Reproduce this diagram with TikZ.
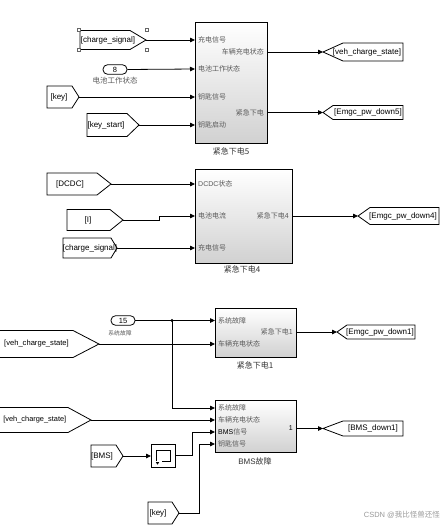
\documentclass[tikz,border=0pt]{standalone}
\usepackage{fontspec}
\setmainfont{Liberation Sans}
\newfontfamily\cjk{Noto Sans CJK SC}
\usetikzlibrary{arrows.meta}
\newcommand\fromtag[8]{%
  \draw[tagline] (#2,#5-#6) -- (#3,#5-#6) -- (#4,#5) -- (#3,#5+#6) -- (#2,#5+#6) -- cycle;
  \coordinate (#1) at (#4,#5);
  \node[tagtxt] (#1t) at (#7,#5) {#8};}
\newcommand\gototag[8]{%
  \draw[tagline] (#2,#5) -- (#3,#5-#6) -- (#4,#5-#6) -- (#4,#5+#6) -- (#3,#5+#6) -- cycle;
  \coordinate (#1) at (#2,#5);
  \node[tagtxt] (#1t) at (#7,#5) {#8};}
\begin{document}
\begin{tikzpicture}[x=1pt,y=-1pt,
  sig/.style={draw=black, line width=0.8pt, -{Triangle[length=5pt,width=4.5pt]}},
  wire/.style={draw=black, line width=0.8pt},
  tagline/.style={draw=black, line width=0.8pt, fill=white},
  tagtxt/.style={font=\fontsize{8}{9}\selectfont, inner sep=0pt},
  blk/.style={draw=black, line width=0.9pt, top color=white, bottom color=black!18,
    inner sep=0pt, outer sep=0pt, anchor=north west},
  plab/.style={font=\cjk\fontsize{7}{8}\selectfont, text=black!65, inner sep=0pt},
  blab/.style={font=\cjk\fontsize{8}{9}\selectfont, text=black!80, inner sep=0pt},
  const/.style={draw=black, line width=0.8pt, rounded corners=4.5pt, fill=white,
    minimum width=24pt, minimum height=9.5pt, inner sep=0pt, font=\fontsize{7.5}{8}\selectfont},
  handle/.style={draw=black!60, line width=0.5pt, fill=white}
]
\useasboundingbox (0,0) rectangle (444,527);

% ---------------- block 紧急下电5 ----------------
\node[blk, minimum width=72pt, minimum height=121pt] (b5) at (195,22) {};
\node[blab] (b5l) at (231,151) {紧急下电5};
\node[plab, anchor=west] (b5p1) at (198,40) {充电信号};
\node[plab, anchor=west] (b5p2) at (198,69) {电池工作状态};
\node[plab, anchor=west] (b5p3) at (198,97) {钥匙信号};
\node[plab, anchor=west] (b5p4) at (198,125) {钥匙启动};
\node[plab, anchor=east] (b5o1) at (264,52) {车辆充电状态};
\node[plab, anchor=east] (b5o2) at (264,113) {紧急下电};
\coordinate (b5i1) at (195,40);
\coordinate (b5i2) at (195,69);
\coordinate (b5i3) at (195,97);
\coordinate (b5i4) at (195,125);
\coordinate (b5q1) at (267,52);
\coordinate (b5q2) at (267,112.5);

\fromtag{fcs1}{80}{130}{146}{40}{9.5}{108}{[charge\_signal]}
\draw[handle] (77.5,28.5) rectangle +(3,3);
\draw[handle] (145.5,28.5) rectangle +(3,3);
\draw[handle] (77.5,48.5) rectangle +(3,3);
\draw[handle] (145.5,48.5) rectangle +(3,3);
\node[const] (c8) at (115,69.5) {8};
\node[font=\cjk\fontsize{7.5}{8}\selectfont, text=black!65, inner sep=0pt] (c8l) at (115,81) {电池工作状态};
\fromtag{fkey1}{47}{72}{79}{97}{11}{59}{[key]}
\fromtag{fks}{87}{127}{139}{125}{11.5}{106}{[key\_start]}

\gototag{gveh}{323}{343}{403}{52}{9}{367}{[veh\_charge\_state]}
\gototag{g5}{323}{333}{403}{112.5}{7}{368}{[Emgc\_pw\_down5]}

\draw[sig] (fcs1) -- (b5i1);
\draw[sig] (c8.east) -- (b5i2);
\draw[sig] (fkey1) -- (b5i3);
\draw[sig] (fks) -- (b5i4);
\draw[sig] (b5q1) -- (gveh);
\draw[sig] (b5q2) -- (g5);

% ---------------- block 紧急下电4 ----------------
\node[blk, minimum width=97pt, minimum height=94pt] (b4) at (195,169) {};
\node[blab] (b4l) at (242,269) {紧急下电4};
\node[plab, anchor=west] (b4p1) at (198,184) {{\fontspec{Liberation Sans}DCDC}状态};
\node[plab, anchor=west] (b4p2) at (198,216) {电池电流};
\node[plab, anchor=west] (b4p3) at (198,248) {充电信号};
\node[plab, anchor=east] (b4o1) at (289,216) {紧急下电4};
\coordinate (b4i1) at (195,184);
\coordinate (b4i2) at (195,216);
\coordinate (b4i3) at (195,248);
\coordinate (b4q1) at (292,216);

\fromtag{fdcdc}{47}{97}{111}{184}{11}{70}{[DCDC]}
\fromtag{fi}{67}{110}{123}{220}{10.5}{88}{[I]}
\fromtag{fcs2}{63}{111}{117}{248}{10}{90}{[charge\_signal]}
\gototag{g4}{358}{370}{439}{216}{8.5}{403}{[Emgc\_pw\_down4]}
\coordinate (fiA) at (159,220);
\coordinate (fiB) at (159,216);

\draw[sig] (fdcdc) -- (b4i1);
\draw[sig] (fi) -- (fiA) -- (fiB) -- (b4i2);
\draw[sig] (fcs2) -- (b4i3);
\draw[sig] (b4q1) -- (g4);

% ---------------- block 紧急下电1 ----------------
\node[blk, minimum width=81pt, minimum height=49pt] (b1) at (215,308) {};
\node[blab] (b1l) at (255,365) {紧急下电1};
\node[plab, anchor=west] (b1p1) at (218,320.5) {系统故障};
\node[plab, anchor=west] (b1p2) at (218,344) {车辆充电状态};
\node[plab, anchor=east] (b1o1) at (293,332) {紧急下电1};
\coordinate (b1i1) at (215,320.5);
\coordinate (b1i2) at (215,344);
\coordinate (b1q1) at (296,332);

\node[const] (c15) at (123,320.5) {15};
\node[font=\cjk\fontsize{5.8}{7}\selectfont, text=black!65, inner sep=0pt] (c15l) at (120,333) {系统故障};
\draw[tagline] (-20,330.5) -- (73,330.5) -- (99,344) -- (73,357.5) -- (-20,357.5) -- cycle;
\coordinate (fveh1) at (99,344);
\node[tagtxt, font=\fontsize{7.6}{9}\selectfont, anchor=east] (fveh1t) at (69,344) {[veh\_charge\_state]};
\gototag{g1}{337}{347}{415}{332}{7}{380}{[Emgc\_pw\_down1]}
\coordinate (jn) at (172,320.5);
\coordinate (jnB) at (172,408);

\draw[sig] (c15.east) -- (b1i1);
\fill (jn) circle (1.6pt);
\draw[sig] (fveh1) -- (b1i2);
\draw[sig] (b1q1) -- (g1);

% ---------------- block BMS故障 ----------------
\node[blk, minimum width=81pt, minimum height=52pt] (bb) at (215,400) {};
\node[blab] (bbl) at (255,461) {{\fontspec{Liberation Sans}BMS}故障};
\node[plab, anchor=west] (bbp1) at (218,408) {系统故障};
\node[plab, anchor=west] (bbp2) at (218,420) {车辆充电状态};
\node[plab, anchor=west] (bbp3) at (218,432) {{\fontspec{Liberation Sans}\color{black}BMS}信号};
\node[plab, anchor=west] (bbp4) at (218,444) {钥匙信号};
\node[font=\fontsize{7}{8}\selectfont, inner sep=0pt, anchor=east] (bbo1) at (293,428.5) {1};
\coordinate (bbi1) at (215,408);
\coordinate (bbi2) at (215,420);
\coordinate (bbi3) at (215,432);
\coordinate (bbi4) at (215,444);
\coordinate (bbq1) at (296,428.5);

\draw[tagline] (-20,407.5) -- (68,407.5) -- (91,420) -- (68,432.5) -- (-20,432.5) -- cycle;
\coordinate (fveh2) at (91,420);
\node[tagtxt, font=\fontsize{7.4}{9}\selectfont, anchor=east] (fveh2t) at (66.5,420) {[veh\_charge\_state]};
\fromtag{fbms}{91}{116}{123}{456}{11}{102}{[BMS]}
\fromtag{fkey2}{148}{172}{179}{513}{11}{158}{[key]}
\gototag{gbms}{323}{343}{403}{428.5}{7.5}{373}{[BMS\_down1]}

% memory block
\node[draw=black, line width=0.8pt, fill=white, minimum width=24pt, minimum height=23pt,
  inner sep=0pt, outer sep=0pt] (mem) at (163,455.5) {};
\draw[line width=0.7pt] (156,461) -- (156,450) -- (170,450) -- (170,461) -- (162,461);
\fill (155.8,462.2) -- (159.2,462.2) -- (157.5,464.6) -- cycle;

\coordinate (mA) at (192,455.5);
\coordinate (mB) at (192,432);
\coordinate (kA) at (199,513);
\coordinate (kB) at (199,444);

\draw[sig] (jn) -- (jnB) -- (bbi1);
\draw[sig] (fveh2) -- (bbi2);
\draw[sig] (fbms) -- (fbms -| mem.west);
\draw[sig] (mem.east) -- (mA) -- (mB) -- (bbi3);
\draw[sig] (fkey2) -- (kA) -- (kB) -- (bbi4);
\draw[sig] (bbq1) -- (gbms);

% watermark
\node[font=\fontsize{7.5}{9}\selectfont, text=black!40, inner sep=0pt, anchor=east] (wm) at (440,515)
  {CSDN @{\cjk 我比怪兽还怪}};
\end{tikzpicture}
\end{document}
